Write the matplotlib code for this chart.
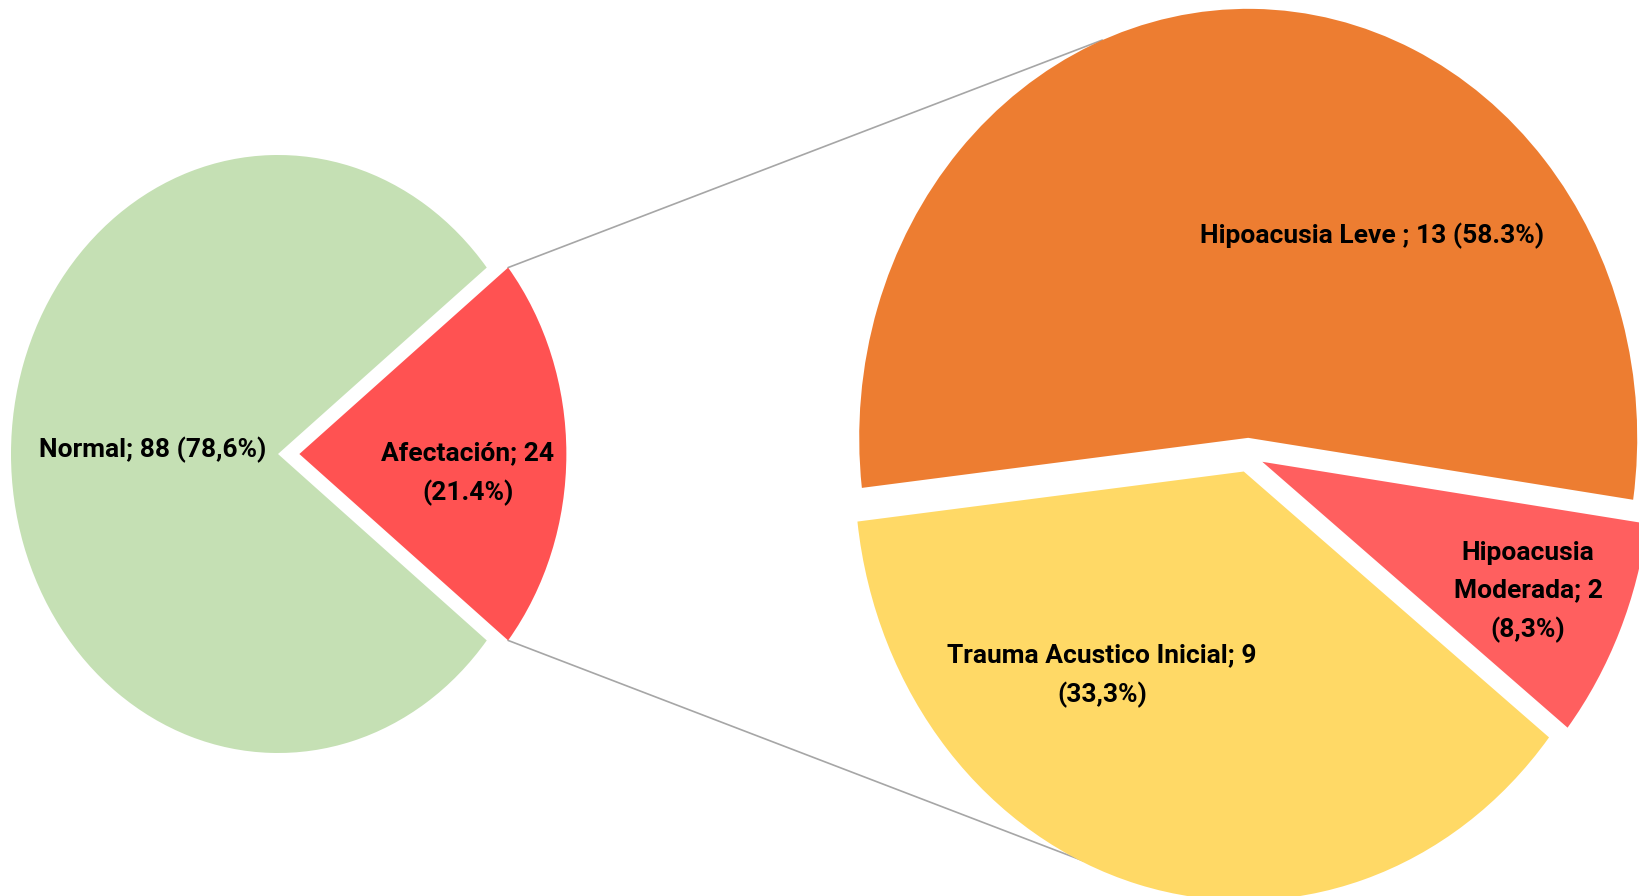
import matplotlib.pyplot as plt
from matplotlib.patches import ConnectionPatch
import numpy as np

plt.rcParams['font.family'] = ['Roboto', 'DejaVu Sans']

# main pie
main_labels = ['Normal; 88 (78,6%)', 'Afectación; 24\n(21.4%)']
main_values = [88, 24]
main_colors = ['#C5E0B4', '#FF5252']

# detail of "Afectación"
sub_labels = ['Hipoacusia Leve ; 13 (58.3%)',
              'Trauma Acustico Inicial; 9\n(33,3%)',
              'Hipoacusia\nModerada; 2\n(8,3%)']
sub_values = [13, 9, 2]
sub_colors = ['#ED7D31', '#FFD966', '#FF5F5F']

W, H = 1640, 896
fig = plt.figure(figsize=(W / 100, H / 100), dpi=100)
lim = 1.2


def pie_axes(cx, cy, rx, ry):
    # axes sized so one data unit is rx px wide and ry px tall (pies are stretched)
    return fig.add_axes([(cx - lim * rx) / W, (H - cy - lim * ry) / H,
                         2 * lim * rx / W, 2 * lim * ry / H])


ax1 = pie_axes(278, 454, 267, 299)
ax2 = pie_axes(1248, 455, 389, 429)

half = 180 * main_values[1] / sum(main_values)
w1, _ = ax1.pie(main_values, colors=main_colors, startangle=half,
                explode=[0, 0.08], wedgeprops=dict(linewidth=0))

start2 = -8.3
w2, _ = ax2.pie(sub_values, colors=sub_colors, startangle=start2,
                explode=[0.04, 0.04, 0.04], wedgeprops=dict(linewidth=0))

for ax in (ax1, ax2):
    ax.set_aspect('auto')
    ax.set_xlim(-lim, lim)
    ax.set_ylim(-lim, lim)
    ax.axis('off')

# labels
txt = dict(ha='center', va='center', fontsize=19, fontweight='bold',
           color='black', linespacing=1.7)
ax1.text(-0.47, 0.013, main_labels[0], **txt)
ax1.text(0.71, -0.067, main_labels[1], **txt)
ax2.text(0.32, 0.51, sub_labels[0], **txt)
ax2.text(-0.375, -0.515, sub_labels[1], **txt)
ax2.text(0.72, -0.32, sub_labels[2], **txt)

# connector lines from the exploded wedge to the detail pie
t = np.deg2rad(half)
for sgn, ang in [(1, 112), (-1, 245)]:
    p1 = (np.cos(t) + 0.08, sgn * np.sin(t))
    a = np.deg2rad(ang)
    p2 = (np.cos(a), np.sin(a) + sgn * 0.04)
    con = ConnectionPatch(xyA=p1, coordsA=ax1.transData, xyB=p2, coordsB=ax2.transData,
                          color='#A6A6A6', linewidth=1.2, zorder=0)
    fig.add_artist(con)

plt.savefig('out.png', dpi=100)
